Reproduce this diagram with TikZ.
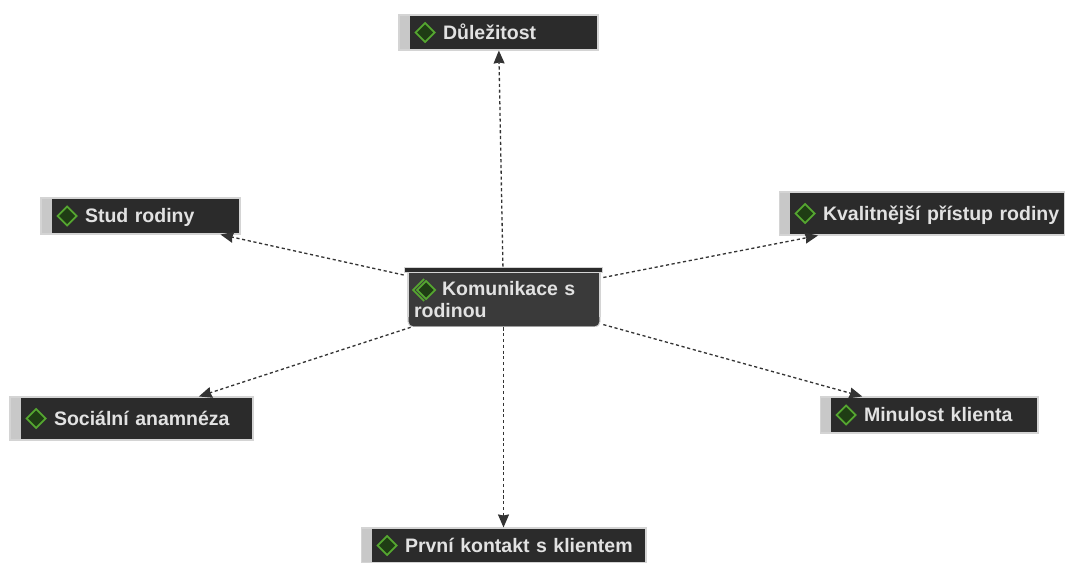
\documentclass[tikz,border=0pt]{standalone}
\usepackage{fontspec}
\setmainfont{Liberation Sans}
\usetikzlibrary{arrows.meta,positioning}

\definecolor{boxdark}{HTML}{2B2B2B}
\definecolor{boxcentre}{HTML}{3A3A3A}
\definecolor{boxedge}{HTML}{D4D4D4}
\definecolor{boxstrip}{HTML}{C8C8C8}
\definecolor{gemedge}{HTML}{55A630}
\definecolor{gemfill}{HTML}{1F3D14}
\definecolor{labeltext}{HTML}{E2E2E2}
\definecolor{linkline}{HTML}{333333}

\tikzset{
    topic/.style 2 args={
        draw=boxedge, line width=0.6pt, fill=boxdark, text=labeltext,
        font=\bfseries\fontsize{11.1pt}{13pt}\selectfont,
        inner xsep=0pt, inner ysep=0pt, text width=#1, minimum height=#2, align=left,
        text height=0.32cm, text depth=0.04cm,
        execute at begin node=\hspace*{0.88cm},
        path picture={
            \fill[boxstrip] (path picture bounding box.south west) rectangle
                ([xshift=0.22cm]path picture bounding box.north west);
            \draw[gemedge, fill=gemfill, line width=1pt]
                ([xshift=0.33cm]path picture bounding box.west) --
                ([xshift=0.52cm,yshift=0.19cm]path picture bounding box.west) --
                ([xshift=0.71cm]path picture bounding box.west) --
                ([xshift=0.52cm,yshift=-0.19cm]path picture bounding box.west) -- cycle;
        }
    },
    link/.style={
        draw=linkline, line width=0.75pt, dash pattern=on 1.8pt off 1.5pt,
        -{Stealth[length=0.26cm,width=0.22cm,inset=0.02cm]}
    }
}

\begin{document}
\begin{tikzpicture}[x=0.02cm,y=-0.02cm]
    % page size
    \useasboundingbox (0,0) rectangle (1065,563);

    % centre topic
    \node[
        inner xsep=0pt, inner ysep=0pt, text width=3.98cm, minimum height=1.2cm, align=left,
        text=labeltext, font=\bfseries\fontsize{11.1pt}{12.5pt}\selectfont,
        path picture={
            \fill[boxcentre, draw=boxedge, line width=0.6pt, rounded corners=3pt]
                ([xshift=0.08cm,yshift=0.3cm]path picture bounding box.south west) --
                ([xshift=0.08cm]path picture bounding box.south west) --
                ([xshift=-0.06cm]path picture bounding box.south east) --
                ([xshift=-0.06cm,yshift=0.3cm]path picture bounding box.south east);
            \fill[boxcentre] ([xshift=0.08cm,yshift=-0.08cm]path picture bounding box.north west) rectangle
                ([xshift=-0.06cm,yshift=0.2cm]path picture bounding box.south east);
            \draw[boxedge, line width=0.6pt]
                ([xshift=0.08cm,yshift=-0.1cm]path picture bounding box.north west) --
                ([xshift=0.08cm,yshift=0.2cm]path picture bounding box.south west)
                ([xshift=-0.06cm,yshift=-0.1cm]path picture bounding box.north east) --
                ([xshift=-0.06cm,yshift=0.2cm]path picture bounding box.south east);
            \fill[boxdark, draw=boxedge, line width=0.6pt]
                (path picture bounding box.north west) rectangle
                ([yshift=-0.11cm]path picture bounding box.north east);
            % second gem behind the first
            \draw[gemedge, line width=1pt]
                ([xshift=0.40cm,yshift=0.36cm]path picture bounding box.west) --
                ([xshift=0.18cm,yshift=0.14cm]path picture bounding box.west) --
                ([xshift=0.40cm,yshift=-0.08cm]path picture bounding box.west);
            \draw[gemedge, fill=gemfill, line width=1pt]
                ([xshift=0.26cm,yshift=0.14cm]path picture bounding box.west) --
                ([xshift=0.44cm,yshift=0.32cm]path picture bounding box.west) --
                ([xshift=0.62cm,yshift=0.14cm]path picture bounding box.west) --
                ([xshift=0.44cm,yshift=-0.04cm]path picture bounding box.west) -- cycle;
        }
    ] (komunikace) at (503.5,297) {\rule{0pt}{0.4cm}\hspace*{0.76cm}Komunikace s\\\hspace*{0.2cm}rodinou};

    % outer topics
    \node[topic={3.98cm}{0.7cm}] (dulezitost) at (498.5,32.5) {Důležitost};
    \node[topic={3.98cm}{0.72cm}] (stud) at (140.5,216) {Stud rodiny};
    \node[topic={5.72cm}{0.86cm}] (kvalitnejsi) at (922,213.5) {Kvalitnější přístup rodiny};
    \node[topic={4.86cm}{0.86cm}] (anamneza) at (131.5,418.5) {Sociální anamnéza};
    \node[topic={4.36cm}{0.72cm}] (minulost) at (929,415) {Minulost klienta};
    \node[topic={5.7cm}{0.7cm}] (kontakt) at (503.5,545.5) {První kontakt s klientem};

    % links
    \draw[link] (komunikace) -- (dulezitost);
    \draw[link] (komunikace) -- ([xshift=1.6cm]stud.south);
    \draw[link] (komunikace) -- ([xshift=-2.08cm]kvalitnejsi.south);
    \draw[link] (komunikace) -- (anamneza);
    \draw[link] (komunikace) -- (minulost);
    \draw[link] (komunikace) -- (kontakt);
\end{tikzpicture}
\end{document}
